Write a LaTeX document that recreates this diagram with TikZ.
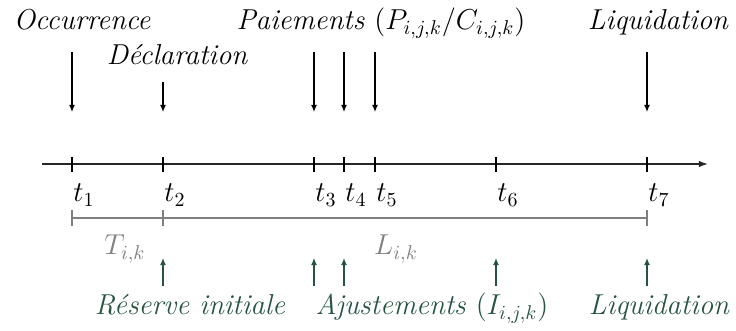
\documentclass[tikz,border=0pt]{standalone}
\usetikzlibrary{arrows.meta}
\definecolor{resgreen}{RGB}{38,84,64}
\definecolor{spangray}{RGB}{128,128,128}
\begin{document}
\begin{tikzpicture}[x=0.5pt,y=-0.5pt,
  lab/.style={font=\fontsize{14.4}{17}\selectfont\itshape, inner sep=0pt, anchor=base},
  tlab/.style={font=\fontsize{14.4}{17}\selectfont, inner sep=0pt, anchor=base west},
  dnarrow/.style={-{Latex[length=3.6pt,width=3pt]}, line width=0.6pt, black},
  uparrow/.style={-{Latex[length=3.6pt,width=3pt]}, line width=0.6pt, resgreen},
  tickmark/.style={line width=0.6pt, black},
  spanline/.style={line width=0.6pt, spangray},
  axisline/.style={-{Latex[length=4.5pt,width=3.2pt]}, line width=0.65pt, black!85}
]
\useasboundingbox (0,0) rectangle (736,331);

% axis
\coordinate (a0) at (42,164);
\coordinate (a1) at (708,164);
\draw[axisline] (a0) -- (a1);

% ticks and time labels
\foreach \n/\x in {1/72,2/163,3/314,4/344,5/375,6/496,7/647}{
  \coordinate (t\n) at (\x,164);
  \coordinate (tu\n) at (\x,157);
  \coordinate (td\n) at (\x,172);
  \draw[tickmark] (tu\n) -- (td\n);
  \node[tlab] (tl\n) at (\x+1,202) {$t_{\n}$};
}

% spans
\coordinate (s1) at (72,218);
\coordinate (s2) at (163,218);
\coordinate (s7) at (647,218);
\draw[spanline] (s1) -- (s7);
\foreach \c in {s1,s2,s7}{
  \draw[spanline] ([yshift=-4pt]\c) -- ([yshift=4pt]\c);
}
\node[lab, text=spangray] (T) at (125,255) {$T_{i,k}$};
\node[lab, text=spangray] (L) at (396,255) {$L_{i,k}$};

% top labels
\node[lab] (occ) at (82,30) {Occurrence};
\node[lab] (dec) at (177,65) {Déclaration};
\node[lab] (pai) at (381,30) {Paiements $(P_{i,j,k}/C_{i,j,k})$};
\node[lab] (liqtop) at (658,30) {Liquidation};

% down arrows
\foreach \n/\x/\y in {1/72/52,2/163/82,3/314/52,4/344/52,5/375/52,7/647/52}{
  \coordinate (ds\n) at (\x,\y);
  \coordinate (de\n) at (\x,112);
  \draw[dnarrow] (ds\n) -- (de\n);
}

% bottom labels
\node[lab, text=resgreen] (res) at (190,315) {Réserve initiale};
\node[lab, text=resgreen] (aju) at (432,315) {Ajustements $(I_{i,j,k})$};
\node[lab, text=resgreen] (liqbot) at (659,315) {Liquidation};

% up arrows
\foreach \n/\x in {2/163,3/314,4/344,6/496,7/647}{
  \coordinate (us\n) at (\x,286);
  \coordinate (ue\n) at (\x,258);
  \draw[uparrow] (us\n) -- (ue\n);
}
\end{tikzpicture}
\end{document}
